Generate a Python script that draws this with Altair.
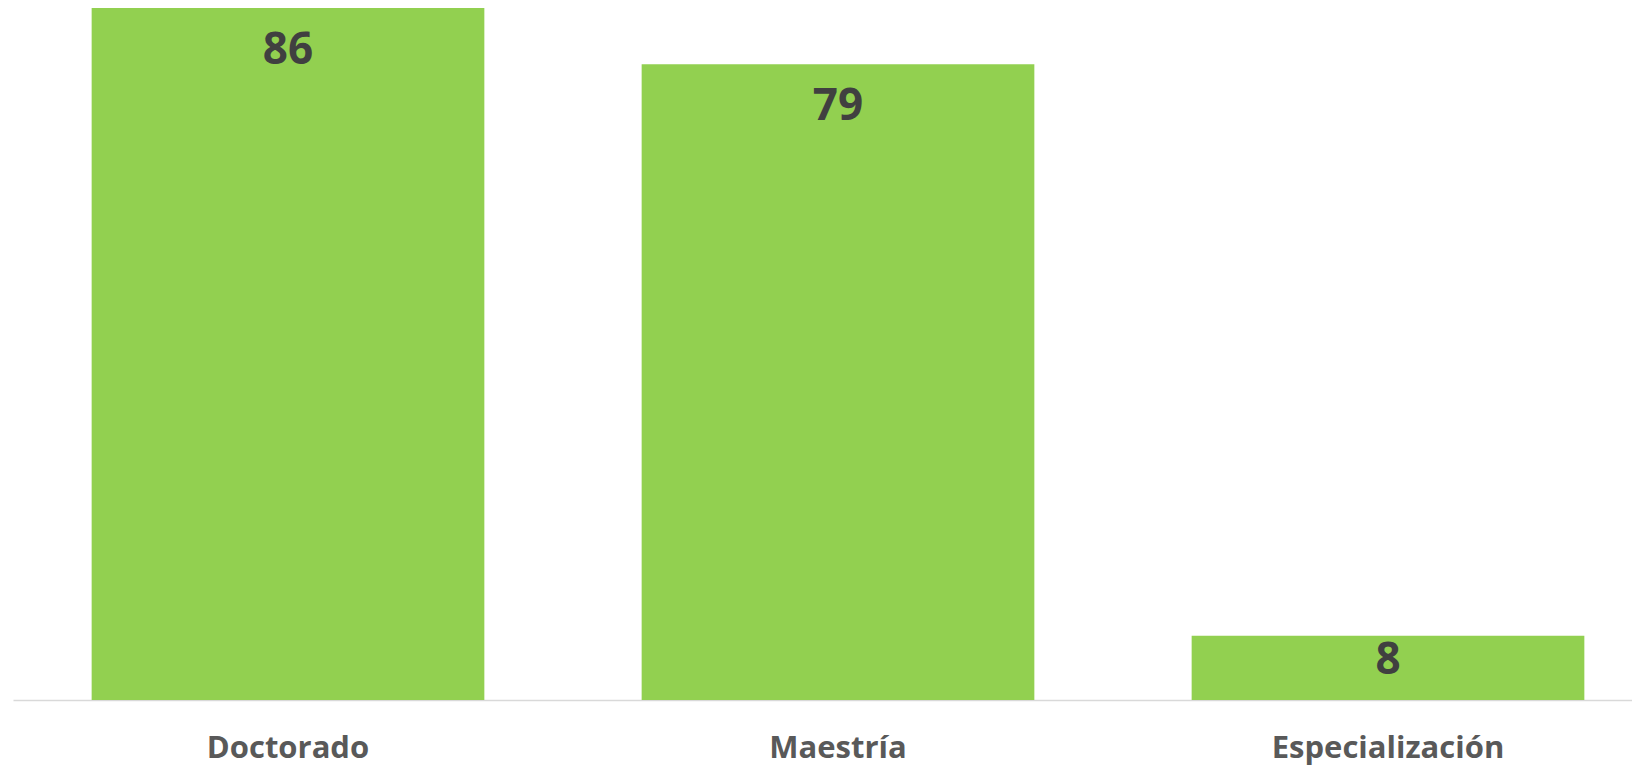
import altair as alt
import pandas as pd

categories = ["Doctorado", "Maestría", "Especialización"]
values = [86, 79, 8]

df = pd.DataFrame({"cat": categories, "val": values})

x = alt.X(
    "cat:N",
    sort=categories,
    scale=alt.Scale(range=[0, 1650], paddingInner=0.286, paddingOuter=0.143),
    axis=alt.Axis(
        title=None,
        labelAngle=0,
        ticks=False,
        tickSize=0,
        labelPadding=57,
        labelBaseline="alphabetic",
        labelFont="Open Sans",
        labelFontWeight="bold",
        labelFontSize=31,
        labelColor="#595959",
        labelLimit=0,
        domainColor="#D9D9D9",
        domainWidth=1.5,
        grid=False,
    ),
)
y = alt.Y("val:Q", scale=alt.Scale(domain=[0, 86], nice=False), axis=None)

bars = alt.Chart(df).mark_bar(color="#92D050").encode(x=x, y=y)

labels = (
    alt.Chart(df)
    .transform_calculate(pos="max(datum.val - 5.3, datum.val / 2 + 0.9)")
    .mark_text(
        font="Open Sans",
        fontWeight="bold",
        fontSize=44,
        color="#404040",
        baseline="middle",
        align="center",
    )
    .encode(x=x, y=alt.Y("pos:Q", scale=alt.Scale(domain=[0, 86], nice=False), axis=None), text="val:Q")
)

chart = (
    alt.layer(bars, labels)
    .properties(
        width=1619,
        height=692,
        autosize=alt.AutoSizeParams(type="none"),
        padding={"left": 5, "top": 0, "right": 0, "bottom": 68},
    )
    .configure_view(stroke=None)
)

chart.save("out.html", embed_options={"renderer": "svg", "actions": False})
